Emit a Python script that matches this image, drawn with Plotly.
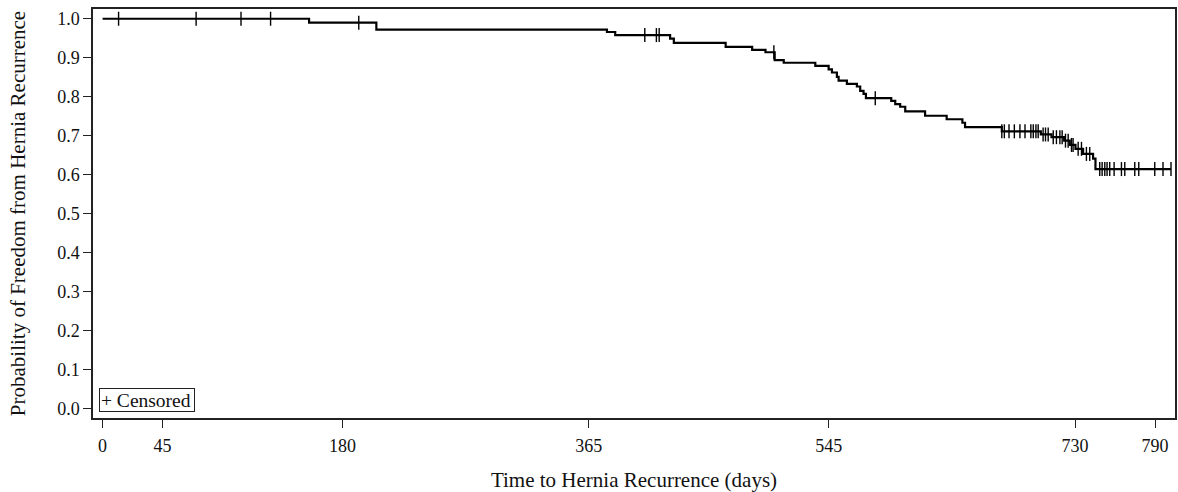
import numpy as np
import plotly.graph_objects as go

# Kaplan-Meier step curve: event times (days) and survival after each time
step_days = [0, 155, 205.5, 378.6, 384.8, 426, 428.8, 467.7, 487.6, 497.6, 504.5,
             511.3, 535, 545, 547.5, 551.2, 552.5, 558.7, 566.2, 568.7, 571.2, 573,
             592, 595, 598.7, 602.5, 617.4, 633.6, 645.4, 647.4, 675, 704.3, 712.3,
             721.8, 726, 730.3, 736, 743.5, 745.3, 802]
survival = [1.0, 0.990, 0.972, 0.966, 0.958, 0.949, 0.938, 0.928, 0.920, 0.914, 0.894,
            0.887, 0.879, 0.870, 0.862, 0.851, 0.841, 0.833, 0.826, 0.815, 0.807, 0.796,
            0.789, 0.781, 0.774, 0.762, 0.751, 0.742, 0.733, 0.722, 0.711, 0.703, 0.696,
            0.687, 0.676, 0.666, 0.653, 0.641, 0.614, 0.614]

# Censoring times (days)
censor_days = [12, 70.2, 103.9, 126.1, 192.3, 407, 415.7, 417.8, 503.9, 580,
               675, 676.9, 680.4, 684.4, 688.6, 692.4, 696.8, 698.6, 700.6, 702.3,
               706, 707.8, 709.8, 713.6, 716, 718.6, 720.3, 722.8, 724.8, 727.3, 728.5,
               732.3, 734.8, 738.5, 741,
               748.5, 750.3, 752.3, 754, 756, 759.3, 764.8, 767.3, 774.8, 777.8,
               789.8, 796, 802]

x_ticks = [0, 45, 180, 365, 545, 730, 790]
y_ticks = [0.0, 0.1, 0.2, 0.3, 0.4, 0.5, 0.6, 0.7, 0.8, 0.9, 1.0]

sd = np.array(step_days)
sv = np.array(survival)
cd = np.array(censor_days)
idx = np.searchsorted(sd, cd, side="right") - 1
censor_surv = sv[np.clip(idx, 0, len(sv) - 1)]

FONT = "Liberation Serif, Times New Roman, serif"
AX = "#222222"

fig = go.Figure()
fig.add_trace(go.Scatter(
    x=step_days, y=survival, mode="lines",
    line=dict(color="black", width=2.2, shape="hv"),
    showlegend=False, hoverinfo="skip",
))
fig.add_trace(go.Scatter(
    x=cd, y=censor_surv, mode="markers",
    marker=dict(symbol="line-ns", size=10, color="black",
                line=dict(color="black", width=1.4)),
    name="Censored", showlegend=False,
))

fig.update_layout(
    width=1178, height=492,
    margin=dict(l=93, r=1, t=9, b=74),
    paper_bgcolor="white", plot_bgcolor="white",
    font=dict(family=FONT, color="#111111", size=18),
    xaxis=dict(
        range=[-7.2, 805], tickmode="array", tickvals=x_ticks,
        ticktext=[str(t) for t in x_ticks],
        ticks="outside", ticklen=8, tickwidth=1.3, tickcolor=AX,
        showline=True, linecolor=AX, linewidth=1.5, mirror=True,
        showgrid=False, zeroline=False,
        tickfont=dict(size=18, family=FONT), ticklabelstandoff=3,
        title=dict(text="Time to Hernia Recurrence (days)",
                   font=dict(size=21, family=FONT), standoff=20),
    ),
    yaxis=dict(
        range=[-0.025, 1.025], tickmode="array", tickvals=y_ticks,
        ticktext=[f"{t:.1f}" for t in y_ticks],
        ticks="outside", ticklen=8, tickwidth=1.3, tickcolor=AX,
        showline=True, linecolor=AX, linewidth=1.5, mirror=True,
        showgrid=False, zeroline=False,
        tickfont=dict(size=18, family=FONT),
        title=dict(text="Probability of Freedom from Hernia Recurrence",
                   font=dict(size=21, family=FONT), standoff=26),
    ),
)

fig.add_annotation(
    xref="paper", yref="paper", x=0.0055, y=0.0147,
    xanchor="left", yanchor="bottom",
    text="+ Censored", showarrow=False, align="left",
    width=92, height=20,
    font=dict(size=19.5, family=FONT, color="#111111"),
    bordercolor="#222222", borderwidth=1, borderpad=1,
    bgcolor="white",
)

fig.write_html("out.html", config={"displayModeBar": False},
               post_script="document.body.style.margin='0';document.body.style.padding='0';")
